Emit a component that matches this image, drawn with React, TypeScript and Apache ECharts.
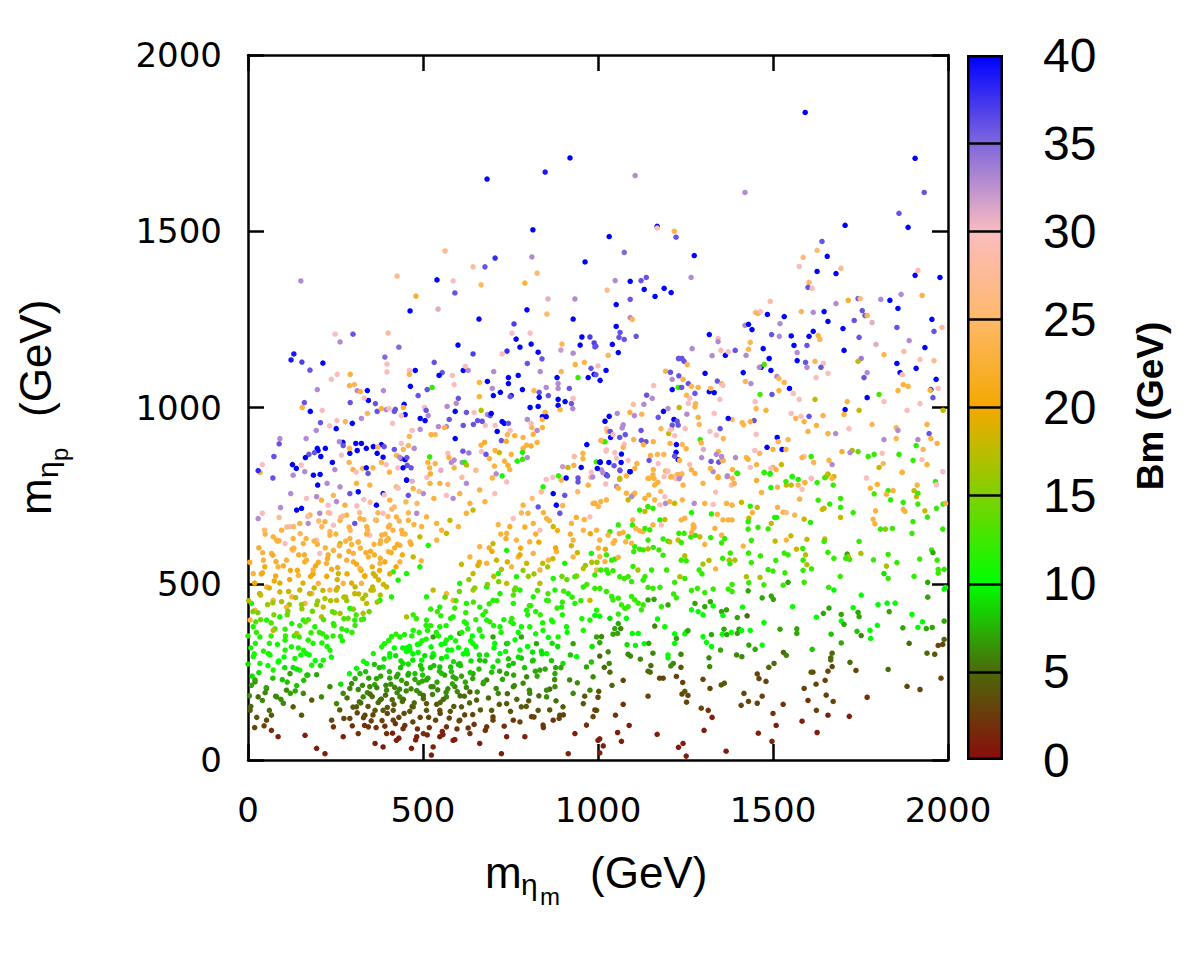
import React, { useEffect, useRef } from "react";
import * as echarts from "echarts";

type P = [number, number, number];

// axis ranges / ticks
const massMin = 0;
const massMax = 2000;
const massStep = 500;
const bmMin = 0;
const bmMax = 40;
const bmStep = 5;
const bmLines = [5, 10, 15, 20, 25, 30, 35];
// palette (Bm = 0,5,10,...,40)
const bmColors = ["#8a0c0c", "#4b6a0a", "#00ff00", "#80d000", "#f4a800", "#ffb868", "#fbbcc0", "#8068dc", "#0000ff"];

// points: [m_eta_m, m_eta_p, Bm]
const upperSparse: P[] = [
[683,1648,40],[849,1668,39],[920,1708,40],[814,1504,40],[151,1359,33],[563,1444,27],[426,1373,27],[480,1316,22],[540,1362,40],[586,1359,30],[591,1325,36],[643,1399,28],[677,1399,36],[706,1424,38],[666,1348,25],[811,1427,33],[826,1381,25],[791,1353,23],[963,1413,40],[857,1308,31],[934,1308,33],[463,1274,40],[543,1279,31],[660,1251,40],[797,1277,40],[854,1265,25],[929,1251,40],[1026,1333,27],[249,1208,30],[263,1186,33],[300,1208,36],[400,1211,28],[431,1171,35],[391,1143,35],[397,1123,30],[397,1101,30],[123,1135,39],[131,1152,39],[154,1129,37],[177,1106,36],[214,1126,40],[760,1237,37],[766,1194,40],[777,1171,40],[754,1211,30],[809,1180,40],[806,1211,30],[829,1157,40],[840,1138,36],[600,1177,40],[643,1152,37],[740,1160,38],[726,1152,30],[954,1200,40],[977,1200,37],[949,1177,40],[989,1183,37],[994,1174,36],[897,1180,24],[894,1163,32],[929,1154,33]
];

const upperLeftBand: P[] = [
[238,1080,30],[255,1094,30],[198,1051,33],[161,1014,36],[155,1000,23],[178,989,40],[212,992,30],[207,957,36],[195,935,33],[233,948,30],[252,940,40],[254,963,30],[278,960,24],[292,1094,23],[290,1062,23],[304,1065,24],[312,1048,33],[321,1045,23],[292,1014,36],[298,955,40],[324,969,33],[341,1048,40],[344,1020,40],[332,1027,30],[341,983,24],[364,1011,36],[369,989,36],[381,997,23],[387,1048,33],[395,994,33],[403,997,30],[461,1105,30],[461,1094,24],[478,1105,40],[464,1060,40],[486,1034,36],[418,989,36],[421,995,36],[446,1009,40],[449,980,40],[444,1000,23],[413,955,30],[438,977,30],[532,1128,36],[555,1099,36],[546,1091,40],[584,1091,30],[589,1065,30],[526,1057,12],[512,1051,36],[601,1026,36],[595,1012,33],[569,1003,33],[615,1105,40],[629,1105,33],[621,1117,30],[661,1071,23],[661,1031,23],[684,1074,40],[698,1054,33],[701,1034,40],[702,1102,33],[721,1043,40],[744,1068,40],[744,1085,40],[752,1034,40],[749,1031,36],[772,1091,40],[784,1051,40],[798,1125,36],[835,1102,33],[817,1048,24],[832,1043,36],[832,1029,40],[852,1057,33],[858,1034,36],[806,1000,40],[829,1003,40],[849,986,23],[841,974,40],[883,1085,40],[886,1068,33],[886,1054,33],[895,1102,24],[906,1017,40],[918,1054,36],[924,1011,36],[928,997,33],[929,1026,30],[943,1085,12],[961,1128,24],[935,1122,23],[972,1085,40],[989,1094,40],[980,1111,36],[1006,1077,40],[1023,1105,40],[886,1023,40],[886,1006,40],[892,994,23],[809,955,30],[811,943,24],[826,935,33],[841,966,23],[852,974,40],[841,943,23],[798,966,33],[786,915,23],[786,884,23],[815,924,23],[726,960,40],[732,955,40],[712,932,40],[724,906,36],[744,955,36],[749,935,30],[741,923,24],[706,949,30],[678,949,30],[684,980,33],[692,977,36],[695,983,40],[669,961,36],[644,952,36],[656,963,36],[615,949,36],[592,989,40],[624,986,36],[646,986,30],[575,966,36],[567,946,33],[544,946,33],[561,943,24],[515,977,33],[492,969,40],[506,963,40],[504,1000,30],[509,992,36],[535,923,24],[523,923,23],[492,938,33],[469,935,30],[461,918,24],[438,898,30],[458,892,24],[475,884,33],[444,881,24],[418,881,36],[424,864,24],[438,855,36],[449,852,40],[455,836,36],[381,895,40],[389,889,36],[369,870,40],[358,889,40],[338,884,40],[324,898,40],[308,898,40],[312,878,40],[291,870,40],[271,901,40],[272,892,36],[261,903,33],[221,884,40],[198,884,40],[200,878,40],[208,861,40],[190,872,36],[174,867,36],[164,858,40],[138,827,40],[127,838,40],[74,861,36],[91,912,33],[89,897,36],[166,912,33],[41,838,30],[35,816,23],[29,821,38],[71,800,36],[152,837,30],[129,808,33],[162,818,33],[187,808,40],[206,810,40],[241,844,40],[248,824,33],[267,865,30],[290,884,24],[289,844,24],[300,824,23],[309,817,30],[327,827,24],[338,829,40],[343,813,36],[357,829,23],[371,888,24],[381,844,24],[386,859,40],[395,838,30],[404,817,23],[428,829,30],[433,859,33],[443,829,40],[454,858,36],[466,829,36],[453,794,40],[519,860,12],[514,844,23],[535,841,23],[519,829,23],[521,812,22],[571,870,30],[574,858,23],[581,844,33],[589,829,23],[612,844,33],[619,844,11],[624,837,17],[592,912,40],[614,876,36],[666,992,17],[666,893,23],[676,901,22],[667,875,30],[680,867,36],[690,855,23],[704,834,23],[709,812,33],[698,800,23],[718,872,18],[706,878,23],[726,806,11],[733,848,23],[743,836,22],[752,867,23],[748,824,23],[738,904,22],[762,920,23],[769,848,11],[784,873,11],[784,853,12],[798,858,33],[796,893,23],[809,891,22],[826,901,23]
];

const gapEdgeMid: P[] = [
[852,796,30],[887,806,12],[895,794,23],[914,830,18],[931,836,23],[957,870,23],[957,855,23],[952,830,40],[968,895,40],[995,846,12],[998,827,40],[1006,846,40],[1017,903,12],[1024,880,30],[1009,907,23],[981,817,30],[985,803,33],[943,800,36],[909,800,40]
];

const upperRight: P[] = [
[1592,1837,40],[1106,1658,33],[1420,1610,33],[1906,1707,40],[1932,1610,36],[1860,1551,36],[1886,1511,40],[1169,1514,40],[1169,1509,30],[1218,1500,24],[1223,1483,36],[1032,1485,40],[1075,1440,35],[1275,1431,40],[1706,1517,40],[1640,1471,36],[1626,1446,26],[1655,1429,40],[1586,1426,26],[1575,1400,30],[1694,1395,27],[1626,1386,40],[1680,1380,40],[1603,1355,25],[1600,1341,36],[1612,1338,30],[1906,1375,40],[1914,1389,29],[1977,1369,40],[1866,1321,33],[1926,1318,23],
[1049,1360,33],[1092,1358,40],[1123,1360,36],[1138,1369,36],[1132,1335,40],[1163,1315,40],[1189,1338,40],[1209,1326,40],[1266,1369,33],[1052,1292,40],[1092,1307,36],[1092,1255,33],[1098,1250,24],[1052,1230,40],[1063,1213,36],[1060,1199,36],[1075,1193,36],[1109,1202,36],[1041,1179,40],[1058,1156,40],[1029,1148,24],[991,1172,36],[994,1093,36],[1000,1118,30],
[1492,1301,28],[1450,1270,27],[1457,1267,23],[1464,1272,30],[1484,1264,40],[1532,1258,40],[1581,1272,24],[1615,1270,33],[1646,1272,40],[1657,1244,40],[1680,1295,33],[1715,1304,22],[1743,1309,36],[1749,1309,26],[1808,1307,33],[1834,1304,40],[1755,1275,36],[1763,1261,36],[1769,1261,24],[1783,1241,31],[1732,1247,36],[1700,1224,40],[1857,1281,40],[1854,1227,36],[1889,1190,33],[1954,1250,40],[1983,1227,28],[1960,1216,36],[1934,1170,40],[1874,1159,28],[1920,1136,30],[1960,1133,27],[1909,1111,40],[1854,1125,40],[1863,1099,40],[1869,1093,30],[1966,1080,40],[1972,1054,30],[1951,1051,40],[1949,1049,23],[1872,1065,23],[1886,1060,23],[1857,1048,23],[1957,1028,36],[1920,1011,30],[1883,992,30],[1986,992,18],[1817,1017,30],[1803,1037,13],[1769,1028,40],[1794,1179,31],[1817,1150,24],[1752,1139,34],[1746,1199,36],[1703,1162,40],[1743,1131,18],[1760,1085,36],[1769,1099,33],[1712,1017,23],[1706,994,40],[1703,980,23],[1746,992,18],[1679,926,33],[1657,926,23],[1624,949,23],[1643,977,23],[1717,940,30],[1783,952,24],[1817,909,33],[1852,943,24],[1857,935,33],[1852,912,24],[1914,909,33],[1940,952,23],[1946,926,36],[1951,912,23],[1969,898,23],[1909,892,12],[1929,881,24],[1900,850,12],[1926,852,30],[1940,838,23],[1860,867,12],[1869,816,23],[1812,870,30],[1815,841,24],[1803,830,18],[1789,867,12],[1772,861,12],[1743,875,14],[1726,878,17],[1720,872,33],[1697,875,22],[1660,850,23],[1669,838,33],[1657,810,18],[1669,799,23],[1626,787,12],[1648,801,13],[1609,861,12],[1616,844,24],[1589,861,30],[1583,858,23],[1609,799,30],[1591,787,23],[1572,796,11],[1555,804,11],[1537,790,12],[1524,838,18],[1509,824,23],[1500,830,23],[1494,827,30],[1475,816,12],[1492,813,11],[1453,838,23],[1453,793,22],[1435,830,30],[1462,870,24],[1448,878,30],[1429,853,23],[1399,813,12],[1389,784,23],[1384,824,23],[1358,850,24],[1344,875,23],[1338,867,33],[1321,827,23],[1343,801,22],[1369,804,33],[1296,858,33],[1323,847,36],[1345,845,36],[1355,850,23],[1353,861,33],[1424,858,23],[1393,858,33],[1452,924,30],[1446,963,36],[1435,960,23],[1412,957,23],[1416,951,24],[1383,966,24],[1372,969,40],[1358,912,24],[1349,940,36],[1320,932,30],[1292,909,12],[1295,900,23],[1332,983,30],[1286,972,23],[1289,952,24],[1254,981,33],[1249,940,30],[1241,895,24],[1252,883,23],[1219,920,30],[1206,898,23],[1224,895,40],[1223,873,40],[1229,852,40],[1219,862,36],[1233,850,23],[1202,926,18],[1210,940,23],[1180,940,24],[1158,903,23],[1137,903,36],[1124,907,36],[1130,895,23],[1123,935,36],[1102,909,23],[1078,923,36],[1072,951,33],[1069,942,33],[1055,983,33],[1032,975,40],[1020,961,40],[1024,940,30],[1027,932,23],[1035,932,36],[1036,915,40],[1043,923,30],[1020,903,12],[1008,906,24],[1062,915,36],[1075,896,30],[1023,876,30],[1048,872,30],[1072,887,24],[1067,868,40],[1053,856,30],[1031,844,40],[1006,844,40],[1066,844,40],[1086,850,30],[1111,841,23],[1046,835,36],[1063,821,36],[1027,806,36],[1014,815,33],[1105,827,23],[1092,818,40],[1081,806,23],[1146,850,36],[1172,841,30],[1188,867,24],[1170,867,24],[1150,864,23],[1193,820,24],[1200,820,30],[1208,803,23],[1230,810,23],[1240,812,24],[1223,798,30],[1232,798,33],[1158,824,23],[1160,799,23],[1146,799,23],[1171,788,23],[1062,796,18],
[1101,1009,28],[1131,1009,33],[1125,981,24],[1091,986,23],[1104,977,33],[1139,1035,36],[1155,1026,33],[1159,1062,30],[1172,972,36],[1187,989,40],[1200,997,33],[1212,950,36],[1207,937,30],[1212,1051,40],[1217,966,40],[1226,961,36],[1229,950,36],[1193,1103,23],[1207,1100,36],[1212,1080,33],[1229,1057,12],[1239,1057,36],[1232,1000,18],[1231,1090,36],[1246,1131,36],[1232,1139,36],[1255,1122,24],[1243,1080,23],[1258,1068,36],[1267,1060,24],[1277,1040,36],[1286,1057,23],[1253,1035,24],[1262,1026,30],[1258,1012,30],[1279,1011,24],[1277,1002,23],[1306,1097,40],[1318,1045,40],[1332,1042,40],[1322,1054,24],[1341,1075,36],[1353,1068,24],[1357,1063,30],[1348,1023,30],[1318,1207,40],[1343,1196,30],[1343,1187,33],[1269,1167,33],[1230,1139,36],[1240,1139,36],[1326,1147,33],[1351,1162,29],[1364,1148,40],[1392,1162,36],[1372,1158,30],[1420,1233,33],[1430,1236,40],[1440,1221,40],[1423,1148,33],[1435,1185,24],[1430,1165,24],[1472,1167,40],[1496,1207,36],[1518,1202,33],[1520,1238,33],[1466,1114,40],[1489,1139,40],[1475,1122,13],[1461,1114,33],[1415,1099,40],[1437,1068,33],[1494,1105,40],[1511,1088,33],[1517,1082,24],[1532,1071,24],[1547,1054,40],[1517,1048,23],[1497,1037,36],[1558,1040,30],[1575,1023,30],[1449,1017,30],[1452,997,24],[1480,992,23],[1463,1037,13],[1421,1074,24],[1552,1203,40],[1560,1176,40],[1569,1156,33],[1569,1133,40],[1597,1176,36],[1603,1202,40],[1615,1216,40],[1629,1204,23],[1634,1193,24],[1593,1128,36],[1597,1114,33],[1620,1131,24],[1644,1125,30],[1637,1114,36],[1623,1085,30],[1657,1097,30],[1580,975,30],[1603,975,36],[1589,960,23],[1600,932,23],[1620,1023,18],[1512,915,40],[1515,903,24],[1526,881,40],[1500,881,23],[1543,909,24],[1537,881,23],[1483,887,40],[1565,969,24],[1552,983,30]
];

const lowerRightLow: P[] = [
[1005,60,1],[1015,40,1],[1005,20,1],[1067,53,1],[1056,78,1],[1089,98,1],[1050,127,2],[1072,158,2],[991,142,3],[1000,178,3],[1002,195,4],[1040,212,5],[1072,226,3],[1143,181,3],[1169,73,1],[1230,36,1],[1243,47,1],[1252,11,1],[1303,84,1],[1326,121,1],[1315,141,2],[1295,147,3],[1253,164,3],[1240,187,3],[1257,183,3],[1248,195,4],[1186,232,3],[1176,232,3],[1143,252,5],[1149,249,5],[1224,237,3],[1242,220,3],[1237,263,4],[1300,229,3],[1320,203,3],[1352,213,4],[1361,218,4],[1366,25,1],[1417,189,3],[1409,155,3],[1430,166,3],[1455,161,3],[1469,181,3],[1458,76,1],[1500,132,2],[1509,98,1],[1497,53,1],[1529,158,2],[1455,244,3],[1460,231,3],[1480,223,3],[1488,263,5],[1503,274,5],[1530,305,5],[1538,297,6],[1583,110,1],[1589,203,3],[1600,169,2],[1624,141,3],[1626,78,1],[1623,215,3],[1614,249,3],[1609,249,4],[1652,184,3],[1657,127,1],[1672,166,3],[1649,226,3],[1657,252,3],[1669,265,3],[1665,284,5],[1669,303,5],[1665,290,5],[1718,124,1],[1737,254,3],[1720,277,5],[1769,178,2],[1829,257,5],[1883,209,3],[1920,200,3],[1980,232,3],[1962,300,4],[1940,303,5],[1972,325,3],[1985,328,3],[1989,342,5],[1889,331,5],[1612,314,8],[1666,357,8]
];

const lowerRightMid: P[] = [
[991,410,10],[1005,408,10],[1034,402,9],[1058,387,7],[1043,357,7],[1010,350,6],[1005,333,7],[1029,307,6],[1005,295,5],[1018,263,5],[1034,249,5],[1032,274,6],[1048,373,7],[1065,373,6],[1056,359,7],[1081,402,10],[1098,359,10],[1115,359,10],[1083,327,9],[1107,325,10],[1132,330,10],[1086,300,6],[1093,295,6],[1121,286,6],[1145,331,7],[1157,303,6],[1151,268,5],[1162,380,6],[1170,400,10],[1191,378,10],[1200,298,10],[1200,290,10],[1215,274,6],[1208,267,6],[1219,331,10],[1224,345,7],[1219,358,10],[1237,300,6],[1248,358,10],[1253,364,10],[1257,367,7],[1267,426,10],[1277,444,7],[1286,421,10],[1300,412,10],[1305,435,7],[1321,449,7],[1329,437,10],[1300,350,10],[1310,334,10],[1324,356,7],[1324,322,10],[1350,312,7],[1317,290,6],[1319,265,6],[1355,357,10],[1368,356,7],[1360,371,7],[1353,421,7],[1367,426,7],[1357,410,10],[1381,362,10],[1398,359,7],[1403,371,7],[1396,298,6],[1411,293,6],[1398,404,7],[1413,434,10],[1426,409,5],[1410,368,10],[1435,368,10],[1431,326,7],[1449,314,7],[1469,326,10],[1474,390,10],[1469,460,7],[1495,465,7],[1501,456,7],[1520,371,7],[1556,435,10],[1568,359,7],[1568,372,7],[1624,405,10],[1644,416,7],[1660,431,7],[1674,482,10],[1695,413,7],[1695,394,10],[1703,385,7],[1695,332,7],[1752,468,10],[1729,432,10],[1743,419,7],[1746,407,7],[1740,365,8],[1752,353,6],[1777,368,10],[1779,345,10],[1798,382,10],[1800,441,10],[1826,445,10],[1832,421,7],[1849,445,10],[1871,375,7],[1897,413,10],[1914,376,10],[1927,392,10],[1938,373,7],[1955,376,7],[1942,462,7],[1942,504,7],[1989,394,7],[1989,485,10],[1993,490,10]
];

const lowerRightHigh: P[] = [
[1010,823,33],[1024,809,39],[1091,818,40],[1062,823,33],[1022,783,29],[1053,776,33],[1058,771,23],[1062,799,18],[1081,757,23],[1105,757,23],[1100,752,23],[1096,747,33],[1086,738,18],[1008,733,23],[1024,738,23],[991,728,23],[1143,799,23],[1157,809,23],[1162,780,23],[1189,804,30],[1210,804,23],[1224,809,28],[1234,804,33],[1243,780,23],[1198,818,30],[1134,742,23],[1145,752,23],[1162,738,23],[1177,724,30],[1191,747,30],[1193,728,33],[1205,733,23],[1119,709,11],[1134,705,18],[1143,719,12],[1157,714,12],[1177,681,11],[1191,682,18],[1181,667,30],[1157,667,23],[1219,728,18],[1241,738,24],[1267,823,23],[1277,813,23],[1329,818,33],[1343,804,23],[1370,806,33],[1384,799,23],[1381,780,30],[1389,785,30],[1397,814,11],[1300,785,23],[1336,760,30],[1275,728,33],[1305,728,23],[1329,725,30],[1367,728,23],[1383,723,23],[1267,702,11],[1248,686,23],[1238,681,23],[1276,661,30],[1272,667,23],[1324,698,11],[1341,697,23],[1357,681,23],[1372,681,23],[1383,681,23],[1353,638,23],[1410,731,18],[1435,720,12],[1455,717,18],[1441,702,23],[1431,686,18],[1429,676,11],[1467,759,23],[1475,815,11],[1491,811,11],[1494,773,11],[1513,774,23],[1513,717,23],[1529,703,23],[1538,702,27],[1510,688,11],[1505,688,11],[1538,780,18],[1552,780,18],[1555,804,11],[1572,780,24],[1591,787,24],[1610,799,30],[1583,768,30],[1576,740,23],[1562,695,24],[1589,683,18],[1607,674,11],[1629,737,12],[1646,714,18],[1641,711,18],[1662,726,12],[1652,804,18],[1657,811,18],[1672,780,12],[1674,804,18],[1693,742,12],[1693,717,12],[1693,688,18],[1729,702,12],[1767,800,30],[1778,771,23],[1798,782,23],[1789,755,13],[1793,707,23],[1786,683,23],[1791,670,23],[1807,655,12],[1821,655,15],[1841,657,12],[1829,764,12],[1824,754,23],[1843,764,23],[1836,738,12],[1869,816,23],[1872,731,12],[1872,711,23],[1877,705,23],[1900,676,12],[1897,643,12],[1903,764,18],[1912,780,23],[1910,747,18],[1914,757,12],[1914,726,12],[1941,689,12],[1934,707,18],[1964,790,12],[1967,781,30],[1985,818,30],[1967,714,12],[1986,726,12],[1993,728,23],[1985,655,12],[1953,596,12],[1957,588,7],[1969,567,12],[1972,541,12],[1972,530,12],[1989,541,12],[1919,570,12],[1854,560,12],[1829,583,12],[1817,529,9],[1829,515,12],[1824,550,17],[1903,521,12],[1787,568,12],[1751,586,17],[1746,620,12],[1712,584,7],[1719,569,12],[1715,577,17],[1708,572,12],[1692,521,12],[1659,490,12],[1648,627,18],[1646,620,12],[1657,589,12],[1674,572,12],[1610,542,12],[1597,554,17],[1586,567,12],[1593,582,17],[1585,600,12],[1597,626,18],[1586,538,12],[1589,504,12],[1567,598,18],[1551,636,18],[1538,624,23],[1543,582,12],[1532,587,12],[1506,621,18],[1508,566,12],[1486,540,12],[1500,536,12],[1486,656,12],[1495,671,18],[1534,531,12],[1543,504,7],[1529,496,12],[1474,497,12],[1463,518,17],[1457,660,12],[1438,623,12],[1429,655,12],[1415,607,23],[1430,587,12],[1464,579,12],[1438,560,12],[1424,520,17],[1431,503,12],[1429,480,7],[1391,567,17],[1375,567,17],[1377,557,12],[1356,572,12],[1362,628,12],[1353,616,12],[1378,587,12],[1383,498,12],[1383,478,12],[1372,485,12],[1336,542,23],[1317,566,17],[1297,528,12],[1300,556,17],[1289,539,12],[1329,485,12],[1305,475,12],[1284,487,12],[1267,481,12],[1248,515,12],[1234,520,17],[1219,504,12],[1216,471,12],[1224,460,12],[1196,539,12],[1186,581,12],[1200,621,12],[1186,627,12],[1205,619,18],[1229,624,18],[1238,617,12],[1231,643,12],[1246,643,12],[1248,579,17],[1238,567,12],[1252,565,12],[1265,633,12],[1278,637,12],[1291,633,18],[1267,645,23],[1272,657,23],[1305,612,23],[1322,631,12],[1334,657,23],[1174,596,12],[1143,599,17],[1158,603,12],[1119,598,12],[1129,596,12],[1102,591,12],[1105,605,12],[1143,624,12],[1129,648,23],[1134,657,12],[1148,653,12],[1119,650,23],[1108,657,23],[1098,667,12],[1096,615,23],[1079,619,23],[1086,634,12],[1048,622,23],[1043,615,23],[1072,646,23],[1058,667,12],[1034,648,12],[1029,638,23],[1005,624,23],[1001,601,23],[1024,582,12],[1005,577,23],[1020,563,23],[1039,567,12],[1048,570,12],[1058,575,23],[1008,539,12],[1024,539,12],[1043,537,12],[1029,530,12],[991,525,12],[1062,520,12],[1075,515,12],[1086,520,12],[1096,506,12],[1100,549,12],[1114,539,17],[1134,520,12],[1153,539,12],[1129,510,12],[1143,490,12],[1157,487,12],[1177,490,12],[991,487,12],[1005,487,12],[1024,478,12],[1039,464,12],[1043,454,12],[1058,459,12],[1096,464,12],[1105,454,12],[1115,445,12],[1129,440,12],[1124,426,12],[1067,440,12],[1077,430,12],[1086,435,12],[1058,414,12],[1143,454,7],[1160,456,7],[1181,435,12],[1200,440,7]
];

const lowerLeftUpperBand: P[] = [
[139,709,40],[153,714,40],[122,756,33],[93,716,33],[199,780,40],[226,785,33],[263,775,33],[291,756,36],[315,761,40],[331,739,30],[367,723,40],[386,756,40],[405,737,23],[458,751,36],[501,756,33],[453,794,40],[548,785,23],[567,751,30],[586,742,33],[605,756,23],[634,728,23],[662,766,23],[705,756,30],[739,789,30],[310,785,23],[348,780,23],[244,751,24],[210,737,23],[167,742,30],[253,733,33],[277,723,23],[229,723,30],[196,747,33],[424,775,24],[472,770,23],[520,785,23],[624,785,33],[677,733,23],
[29,685,33],[41,700,30],[72,633,23],[96,652,23],[120,662,30],[148,671,23],[172,671,33],[177,695,23],[205,700,33],[220,676,23],[234,700,30],[244,666,30],[263,680,23],[282,695,23],[305,671,36],[320,685,23],[339,662,23],[367,680,23],[386,700,30],[405,666,23],[424,690,23],[439,652,23],[458,680,23],[482,700,33],[496,662,23],[510,690,23],[539,671,23],[553,652,23],[577,680,18],[601,662,23],[624,700,23],[643,709,18],[82,624,23],[106,614,30],[129,628,23],[158,614,23],[196,624,30],[234,638,23],[263,614,18],[291,628,23],[315,619,23],[348,638,30],[377,614,23],[401,628,23],[434,609,23],[463,619,23],[491,633,18],[515,609,11],[539,624,23],[567,643,18],
[15,529,23],[44,567,23],[67,586,23],[86,548,23],[110,567,23],[129,595,30],[144,524,23],[167,567,23],[186,539,23],[205,586,30],[224,558,23],[244,595,23],[258,529,18],[282,567,23],[301,586,23],[320,543,23],[344,576,23],[358,529,18],[377,558,23],[401,591,23],[415,534,11],[434,562,23],[453,529,11],[472,576,18],[491,548,11],[495,565,23],
[10,444,11],[20,425,23],[34,472,23],[53,491,23],[72,453,23],[91,477,18],[110,434,23],[125,463,23],[148,482,18],[163,444,23],[182,472,23],[201,501,23],[215,434,18],[234,482,23],[253,453,18],[272,501,23],[291,430,11],[305,472,18],[324,501,23],[339,444,18],[358,482,18],[377,453,11],[396,491,18],[410,463,11],[429,510,11],
[6,397,23],[15,378,11],[34,349,11],[53,397,11],[72,368,18],[91,406,11],[106,340,11],[125,387,11],[139,359,17],[158,397,11],[172,340,11],[191,378,11],[210,406,17],[224,349,11],[244,387,11],[263,416,17],[282,368,11],[305,397,11],[329,416,17],[330,400,11],
[15,293,11],[20,227,7],[34,274,11],[58,302,11],[72,255,11],[86,278,11],[106,312,11],[120,245,7],[134,288,11],[148,255,11],[167,302,11],[182,269,11],[196,242,7],[215,283,11],[234,312,11]
];

const lowerLeftLowerBand: P[] = [
[715,668,23],[739,643,23],[786,723,23],[800,700,23],[829,718,36],[843,775,11],[872,756,40],[881,723,40],[891,700,36],[905,751,36],[924,671,23],[943,789,36],[972,780,23],[986,728,23],[815,671,23],[834,652,30],[872,662,18],[929,624,23],[958,652,23],[996,652,23],[767,624,23],[805,619,23],[700,614,18],[758,685,30],[853,685,23],[977,690,30],
[610,555,18],[634,576,23],[643,529,18],[662,605,23],[682,558,23],[710,567,18],[715,529,11],[739,595,11],[753,548,23],[772,576,23],[796,558,18],[815,586,23],[834,539,23],[858,567,23],[881,591,23],[905,558,11],[929,576,23],[958,543,18],[981,586,11],[996,539,23],[767,520,11],[872,515,11],[934,520,11],
[510,463,11],[529,482,18],[548,434,11],[567,472,23],[586,453,23],[605,501,11],[624,444,11],[643,482,18],[662,434,11],[682,491,11],[700,453,11],[720,472,11],[739,501,18],[758,444,11],[777,482,11],[796,425,11],[815,463,11],[834,501,18],[853,453,11],[877,482,11],[896,434,11],[915,472,11],[934,444,11],[958,491,11],[977,453,18],[996,425,11],
[390,330,11],[410,350,11],[434,349,11],[453,406,17],[472,368,11],[491,330,11],[510,397,11],[529,349,7],[548,378,11],[567,340,11],[586,406,11],[605,359,7],[624,387,11],[643,330,11],[662,368,11],[682,397,11],[700,349,7],[720,378,11],[739,330,7],[758,387,11],[781,349,7],[805,378,11],[824,330,7],[843,368,11],[867,397,11],[886,349,11],[910,378,11],[929,330,7],[958,368,11],[977,397,11],[996,349,7],
[265,215,9],[290,245,10],[310,260,10],[330,280,11],[320,245,8],[339,274,10],[358,302,11],[367,231,7],[386,264,9],[405,293,10],[424,236,7],[443,274,9],[463,312,11],[477,245,8],[496,283,10],[510,227,7],[529,302,10],[548,264,8],[567,293,10],[586,236,7],[605,274,9],[624,312,10],[643,245,7],[662,283,8],[682,227,6],[700,264,9],[720,302,10],[739,245,7],[758,274,8],[777,312,10],[796,236,6],[815,283,9],[834,255,7],[853,302,10],[877,245,7],[900,274,9],[919,227,6],[939,293,10],[967,264,7],[986,236,6],
[6,141,4],[20,222,6],[29,179,5],[53,203,4],[82,179,6],[110,198,6],[129,151,4],[158,189,6],[182,170,4],[210,179,6],[234,208,6],[253,160,6],[272,189,6],[296,217,6],[310,151,4],[329,179,6],[348,208,6],[363,141,4],[377,170,6],[396,198,6],[415,141,4],[434,179,6],[453,217,6],[472,151,4],[491,189,6],[510,160,4],[529,208,6],[548,141,4],[567,179,6],[591,208,6],[610,151,4],[634,193,4],[653,170,4],[672,217,6],[696,141,4],[715,189,6],[739,160,4],[758,208,6],[781,151,4],[805,189,6],[829,141,4],[853,179,6],[877,208,6],[900,151,4],[929,189,6],[958,160,4],[977,198,6],[996,141,4],
[53,113,3],[67,127,4],[67,84,2],[86,66,1],[153,127,4],[163,70,1],[196,33,1],[220,18,1],[244,94,2],[239,113,3],[272,66,1],[291,118,3],[315,75,2],[334,127,3],[344,94,2],[363,47,1],[386,37,1],[396,75,2],[415,113,3],[424,56,1],[443,89,2],[467,33,1],[482,66,1],[501,75,2],[524,14,1],[529,37,1],[548,66,1],[567,94,2],[586,56,1],[605,113,3],[634,75,2],[662,47,1],[682,94,2],[700,113,3],[724,18,1],[739,66,1],[758,113,2],[791,66,1],[810,123,3],[843,99,2],[872,113,2],[891,127,3],[915,18,1],[934,75,1],[967,99,2],[986,123,3],[1000,56,1]
];

const denseLowerCore: P[] = [
[300,150,4],[315,200,6],[330,120,3],[345,232,7],[355,180,5],[366,92,2],[375,262,8],[386,141,4],[394,212,6],[405,302,10],[412,171,5],[421,103,2],[428,243,7],[437,281,9],[446,132,3],[452,196,6],[461,322,10],[469,152,4],[477,229,7],[484,88,2],[493,268,8],[501,183,5],[509,343,11],[516,121,3],[523,208,6],[531,298,10],[539,158,4],[547,252,8],[555,81,1],[562,331,10],[571,202,6],[578,138,4],[587,279,9],[594,231,7],[603,111,3],[611,362,11],[618,181,5],[627,301,10],[635,248,8],[642,129,3],[651,398,12],[322,162,5],[341,191,6],[362,214,7],[381,173,5],[398,149,4],[419,206,6],[441,166,5],[459,246,8],[482,197,6],[498,224,7],[521,262,8],[542,199,6],[558,172,5],[581,251,8],[598,194,6],[621,221,7],[352,111,3],[391,96,2],[431,62,1],[471,108,3],[512,71,1],[549,132,3],[591,58,1],[629,91,2],[382,321,11],[402,339,11],[423,357,12],[442,318,10],[471,301,10],[489,362,11],[522,381,12],[552,328,10],[579,402,11],[601,319,10],[641,352,10],[661,298,9],[679,421,12],[702,381,11],[719,252,7],[742,331,9],[761,211,6],[781,289,8],[802,168,4],[821,252,7],[838,309,9],[862,201,5],[879,262,7],[901,128,3],[921,298,8],[941,219,6],[962,181,4],[981,278,8]
];

const denseLowerExtra: P[] = [
[262,142,4],[274,118,3],[283,176,5],[291,203,6],[298,97,2],[306,231,7],[312,134,3],[318,165,5],[327,212,6],[333,98,2],[336,251,8],[343,152,4],[349,187,5],[357,128,3],[361,271,8],[368,205,6],[372,163,5],[379,238,7],[383,112,3],[389,287,9],[393,184,5],[398,132,3],[404,251,8],[408,215,6],[413,76,1],[417,158,4],[422,296,9],[426,191,6],[431,121,3],[436,262,8],[439,226,7],[444,172,5],[448,98,2],[453,308,10],[457,241,7],[462,138,4],[466,202,6],[471,283,9],[475,162,5],[479,57,1],[484,328,10],[488,219,7],[492,121,3],[497,258,8],[501,174,5],[505,296,9],[510,141,4],[514,232,7],[518,92,2],[523,321,10],[527,186,6],[531,268,8],[536,113,3],[540,221,7],[544,352,11],[549,163,5],[553,288,9],[557,72,1],[562,241,7],[566,192,6],[571,312,10],[575,119,3],[579,264,8],[584,216,7],[588,152,4],[593,338,11],[597,88,2],[601,271,8],[606,182,5],[610,238,7],[615,301,10],[619,128,3],[624,206,6],[628,372,11],[633,162,5],[637,281,9],[642,231,7],[646,101,2],[651,322,10],[655,193,6],[660,258,8],[664,142,4],[669,351,11],[673,221,7],[678,84,2],[682,298,9],[687,176,5],[691,392,12],[696,249,8],[700,122,3],[705,331,10],[709,203,6],[714,281,9],[718,158,4],[723,362,11],[727,229,7],[732,96,2],[736,308,10],[741,188,5],[745,268,8],[750,138,4],[754,402,12],[759,241,7],[763,341,10],[768,172,5],[772,292,9],[777,108,3],[781,378,11],[786,218,6],[790,262,8],[795,152,4],[799,322,10],[804,198,6],[808,438,12],[813,281,8],[817,122,3],[822,358,11],[826,238,7],[831,182,5],[835,412,12],[840,301,9],[844,92,2],[849,258,7],[853,198,6],[858,348,10],[862,142,4],[867,282,8],[871,392,11],[876,228,6],[880,168,5],[885,322,9],[889,118,3],[894,262,7],[898,448,12]
];

const midBandExtra: P[] = [
[405,232,7],[418,318,10],[433,201,6],[447,356,11],[458,272,9],[472,412,12],[486,305,10],[499,241,8],[513,368,11],[526,292,9],[541,421,12],[553,246,8],[566,381,11],[582,312,10],[594,452,13],[607,268,8],[622,418,12],[636,338,10],[648,488,15],[661,371,11],[677,281,8],[689,443,12],[703,318,10],[716,506,15],[731,398,11],[744,287,8],[758,468,13],[772,362,10],[786,538,16],[799,412,11],[813,306,9],[827,481,13],[842,389,11],[856,548,16],[869,331,9],[883,431,12],[897,521,14],[912,362,10],[926,462,12],[941,588,18],[954,401,11],[968,498,13],[983,322,9],[997,561,16],
[8,318,11],[22,392,13],[36,468,17],[48,548,21],[63,298,10],[77,372,12],[91,502,19],[105,262,9],[118,441,16],[132,352,12],[145,582,22],[159,311,11],[172,398,13],[186,528,20],[199,451,16],[213,358,12],[227,571,22],[241,421,14],[255,512,19],[268,372,12],[282,452,16],[296,611,23],[309,412,13],[323,538,20],[336,468,17],[350,592,22],[364,522,19],[378,468,17],[392,641,23]
];

const denseUpperCore: P[] = [
[10,212,7],[31,248,9],[49,191,6],[71,232,8],[88,281,10],[112,221,8],[129,262,9],[151,298,10],[168,241,8],[192,282,10],[21,331,11],[44,309,11],[66,352,12],[84,328,11],[106,371,12],[124,321,11],[146,349,12],[164,392,14],[186,331,11],[204,362,12],[226,322,11],[246,381,12],[264,351,11],[286,402,14],[306,382,12],[14,421,15],[36,398,14],[56,441,16],[74,412,15],[96,449,17],[114,422,15],[136,461,17],[154,429,16],[176,472,18],[196,441,16],[214,481,18],[236,452,17],[256,489,19],[274,462,17],[296,502,19],[316,471,18],[334,522,19],[356,491,18],[376,538,20],[19,502,20],[41,531,21],[61,488,19],[79,522,21],[101,551,22],[119,512,20],[141,538,21],[161,582,22],[179,521,20],[201,561,22],[221,602,23],[239,541,21],[261,579,22],[279,621,23],[301,562,22],[321,601,23],[339,641,23],[361,582,22],[379,622,23],[401,661,23],[419,602,22],[441,642,23],[31,602,22],[49,641,23],[71,581,22],[89,622,24],[111,661,27],[131,601,23],[149,642,24],[171,691,28],[189,621,23],[211,662,24],[229,702,28],[251,641,23],[271,692,27],[289,661,23],[311,721,29],[331,682,24],[349,731,28],[371,701,24],[389,752,30],[411,712,24],[429,771,30],[451,732,24],[469,791,31],[489,762,27],[511,802,30],[531,742,23],[551,822,31],[571,782,26],[589,851,33],[611,802,28],[631,871,34],[651,822,27],[0,272,9],[0,352,12],[2,452,17],[5,561,22],[8,152,5],[25,121,4],[41,169,6],[61,141,5],[79,181,6],[101,161,6],[121,189,7],[139,211,8],[159,226,8],[19,92,3],[46,97,3]
];

const denseUpperExtra: P[] = [
[4,182,6],[12,238,9],[18,301,11],[24,362,12],[28,418,15],[33,472,18],[38,528,21],[42,588,23],[47,652,25],[52,205,7],[57,268,10],[61,331,11],[66,389,13],[71,446,16],[75,508,20],[80,563,22],[84,621,23],[89,688,27],[94,172,6],[98,228,8],[103,292,10],[107,352,12],[112,412,14],[116,478,18],[121,538,21],[126,598,23],[130,662,25],[135,196,7],[139,258,9],[144,318,11],[148,381,12],[153,441,16],[157,502,19],[162,562,22],[166,628,23],[171,241,8],[175,298,10],[180,361,12],[184,422,14],[189,488,18],[193,551,21],[198,612,23],[202,678,26],[207,268,9],[211,332,11],[216,398,13],[220,458,17],[225,521,20],[229,582,22],[234,648,24],[238,292,10],[243,352,12],[247,418,14],[252,482,18],[256,546,21],[261,608,23],[265,688,27],[270,338,11],[274,401,13],[279,462,17],[283,528,20],[288,592,22],[292,652,24],[297,362,12],[301,428,15],[306,491,18],[310,556,21],[315,618,23],[319,702,27],[324,398,13],[328,458,17],[333,522,20],[337,588,22],[342,652,24],[346,421,14],[351,482,18],[355,548,21],[360,612,23],[364,681,25],[369,448,16],[373,511,19],[378,572,22],[382,638,23],[387,498,18],[391,562,21],[396,622,23],[400,691,25],[405,528,19],[409,588,22],[414,652,23],[418,718,26],[423,548,20],[427,612,22],[432,678,24],[441,582,21],[449,641,23],[458,701,24],[466,612,22],[474,668,23],[483,728,25]
];

const nearGapLower: P[] = [
[661,561,20],[689,602,22],[722,641,23],[748,662,22],[781,701,24],[812,742,26],[838,761,27],[871,802,30],[899,832,32],[932,861,28],[702,521,17],[741,562,19],[779,601,21],[822,641,22],[861,679,23],[899,722,24],[942,761,25],[979,802,28],[761,482,14],[801,521,16],[842,558,18],[879,602,20],[921,641,22],[961,682,23],[1001,719,24],[822,421,11],[858,452,12],[902,479,13],[939,522,15],[982,561,17],[1021,598,20],[1061,642,22],[1099,681,23],[1142,719,24],[1179,762,25],[1221,801,27],[1262,838,29],[1301,881,31],[1338,922,30],
[452,318,10],[468,352,11],[481,401,12],[497,338,11],[509,382,11],[522,428,12],[538,362,11],[551,409,12],[563,462,14],[579,348,10],[591,431,12],[604,478,14],[618,392,11],[631,512,16],[644,448,13],[657,552,19],[671,412,11],[684,498,15],[697,592,20],[711,452,12],[724,541,17],[737,628,22],[751,392,11],[764,488,14],[777,582,19],[791,661,22],[804,438,12],[817,528,16],[831,618,20],[844,702,23],[857,472,13],[871,571,18],[884,651,21],[898,412,11],[911,512,14],[924,608,19],[938,688,22],[951,452,12],[964,552,16],[978,642,20],[991,728,23]
];

const allPoints: P[] = [
  ...lowerLeftLowerBand,
  ...denseLowerCore,
  ...denseLowerExtra,
  ...midBandExtra,
  ...lowerLeftUpperBand,
  ...denseUpperCore,
  ...denseUpperExtra,
  ...nearGapLower,
  ...lowerRightLow,
  ...lowerRightMid,
  ...lowerRightHigh,
  ...gapEdgeMid,
  ...upperLeftBand,
  ...upperRight,
  ...upperSparse,
];

const tickFont = "DejaVu Sans";
const titleFont = "Liberation Sans";

function titleText(text: string, x: number, y: number, size: number) {
  return {
    type: "text",
    x,
    y,
    style: {
      text,
      fontSize: size,
      fontFamily: titleFont,
      fill: "#000",
      align: "left",
      verticalAlign: "middle",
      textAlign: "left",
      textVerticalAlign: "middle",
    },
  };
}

export default function App() {
  const ref = useRef<HTMLDivElement>(null);

  useEffect(() => {
    if (!ref.current) return;
    const chart = echarts.init(ref.current, null, { renderer: "svg" });

    const frameAxis = {
      axisLine: { show: true, onZero: false, lineStyle: { color: "#000", width: 2.5 } },
      axisTick: { show: true, inside: true, length: 16, lineStyle: { color: "#000", width: 2.5 } },
      splitLine: { show: false },
    };
    const plain = (v: number) => String(v);

    const stops = bmColors.map((c, i) => ({ offset: i / (bmColors.length - 1), color: c }));

    chart.setOption({
      animation: false,
      backgroundColor: "#fff",
      grid: [
        { left: 248, top: 55, width: 700, height: 705 },
        { left: 967, top: 55, width: 36, height: 705 },
      ],
      xAxis: [
        {
          type: "value", gridIndex: 0, min: massMin, max: massMax, interval: massStep, position: "bottom",
          ...frameAxis,
          axisLabel: { fontSize: 34, fontFamily: tickFont, color: "#000", margin: 33, formatter: plain },
        },
        {
          type: "value", gridIndex: 0, min: massMin, max: massMax, interval: massStep, position: "top",
          ...frameAxis,
          axisLabel: { show: false },
        },
        {
          type: "category", gridIndex: 1, data: ["Bm"], show: false,
        },
      ],
      yAxis: [
        {
          type: "value", gridIndex: 0, min: massMin, max: massMax, interval: massStep, position: "left",
          ...frameAxis,
          axisLabel: { fontSize: 34, fontFamily: tickFont, color: "#000", margin: 26, formatter: plain },
        },
        {
          type: "value", gridIndex: 0, min: massMin, max: massMax, interval: massStep, position: "right",
          ...frameAxis,
          axisLabel: { show: false },
        },
        {
          type: "value", gridIndex: 1, min: bmMin, max: bmMax, interval: bmStep, position: "right",
          axisLine: { show: false }, axisTick: { show: false }, splitLine: { show: false },
          axisLabel: { fontSize: 48, fontFamily: titleFont, color: "#000", margin: 40, formatter: plain },
        },
      ],
      visualMap: {
        type: "continuous",
        show: false,
        min: bmMin,
        max: bmMax,
        dimension: 2,
        seriesIndex: 0,
        inRange: { color: bmColors },
      },
      series: [
        {
          type: "scatter",
          xAxisIndex: 0,
          yAxisIndex: 0,
          symbol: "circle",
          symbolSize: 5.5,
          data: allPoints,
          itemStyle: { opacity: 1 },
          silent: true,
        },
        {
          type: "bar",
          xAxisIndex: 2,
          yAxisIndex: 2,
          data: [bmMax],
          barWidth: "100%",
          silent: true,
          itemStyle: {
            color: new echarts.graphic.LinearGradient(0, 1, 0, 0, stops),
            borderColor: "#000",
            borderWidth: 2.5,
          },
          markLine: {
            silent: true,
            symbol: ["none", "none"],
            label: { show: false },
            lineStyle: { color: "#000", width: 2.5, type: "solid" },
            data: bmLines.map((v) => ({ yAxis: v })),
          },
        },
      ],
      graphic: [
        {
          type: "group",
          children: [
            titleText("m", 485, 872, 44),
            titleText("η", 521, 884, 30),
            titleText("m", 540, 896, 24),
            titleText("(GeV)", 590, 872, 44),
          ],
        },
        {
          type: "group",
          x: 50,
          y: 515,
          rotation: Math.PI / 2,
          children: [
            titleText("m", 0, -15, 44),
            titleText("η", 37, -3, 30),
            titleText("p", 54, 9, 24),
            titleText("(GeV)", 98, -15, 44),
          ],
        },
        {
          type: "text",
          x: 1150,
          y: 406,
          rotation: Math.PI / 2,
          style: {
            text: "Bm (GeV)",
            fontSize: 37,
            fontWeight: "bold",
            fontFamily: titleFont,
            fill: "#000",
            align: "center",
            verticalAlign: "middle",
            textAlign: "center",
            textVerticalAlign: "middle",
          },
        },
      ],
    });

    return () => chart.dispose();
  }, []);

  return (
    <div
      ref={ref}
      style={{ position: "absolute", left: 0, top: 0, width: 1200, height: 960, background: "#fff" }}
    />
  );
}
